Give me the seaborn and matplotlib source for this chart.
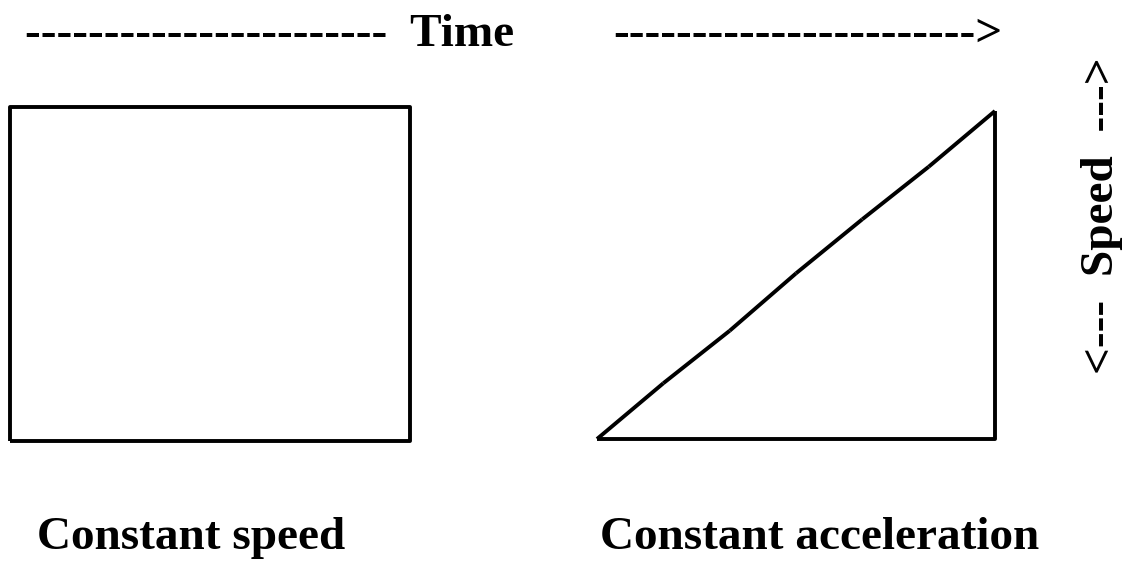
import matplotlib
matplotlib.use("Agg")
import matplotlib.pyplot as plt
import pandas as pd
import seaborn as sns

# --- DATA ---
time_steps = [0, 1, 2, 3, 4, 5, 6]
speed_constant = [10, 10, 10, 10, 10, 10, 10]
speed_accel = [0, 1.7, 3.3, 5.05, 6.7, 8.3, 10]

top_left_label = "-----------------------  Time"
top_right_label = "----------------------->"
side_label = "<---  Speed  --->"
left_title = "Constant speed"
right_title = "Constant acceleration"

sns.set_theme(style="white")
plt.rcParams["font.family"] = ["Liberation Serif", "DejaVu Serif"]

LW = 2.8
W, H = 1132, 562


def box(x0, y0, x1, y1):
    # pixel box (top-left origin) -> figure fraction rect
    return [x0 / W, (H - y1) / H, (x1 - x0) / W, (y1 - y0) / H]


fig = plt.figure(figsize=(11.32, 5.62), dpi=100)

# constant speed: closed box under the flat speed line
ax1 = fig.add_axes(box(10, 107, 410, 441))
t0, t1 = time_steps[0], time_steps[-1]
rect = pd.DataFrame({
    "time": [t0] + time_steps + [t1, t0],
    "speed": [0] + speed_constant + [0, 0],
})
sns.lineplot(data=rect, x="time", y="speed", sort=False, estimator=None,
             color="black", lw=LW, ax=ax1)

# constant acceleration: each piece of the ramp drawn separately
ax2 = fig.add_axes(box(597, 111, 995, 439))
rows = []
for i in range(len(time_steps) - 1):
    rows.append({"seg": i, "time": time_steps[i], "speed": speed_accel[i]})
    rows.append({"seg": i, "time": time_steps[i + 1], "speed": speed_accel[i + 1]})
ramp = pd.DataFrame(rows)
sns.lineplot(data=ramp, x="time", y="speed", units="seg", sort=False,
             estimator=None, color="black", lw=LW, ax=ax2)
edge = pd.DataFrame({"time": [t1, t1, t0], "speed": [speed_accel[-1], 0, 0]})
sns.lineplot(data=edge, x="time", y="speed", sort=False, estimator=None,
             color="black", lw=LW, ax=ax2)

for ax in (ax1, ax2):
    ax.set_xlim(0, 6)
    ax.set_ylim(0, 10)
    ax.axis("off")
    for ln in ax.lines:
        ln.set_clip_on(False)
        ln.set_solid_capstyle("butt")

txt = dict(fontsize=34, fontweight="bold", color="black")
fig.text(25 / W, 1 - 46 / H, top_left_label, ha="left", va="baseline", **txt)
fig.text(613 / W, 1 - 46 / H, top_right_label, ha="left", va="baseline", **txt)
fig.text(1102 / W, 1 - 216 / H, side_label, ha="center", va="center",
         rotation=90, **txt)
fig.text(37 / W, 1 - 549 / H, left_title, ha="left", va="baseline", **txt)
fig.text(600 / W, 1 - 549 / H, right_title, ha="left", va="baseline", **txt)

fig.savefig("out.png", dpi=100, facecolor="white")
